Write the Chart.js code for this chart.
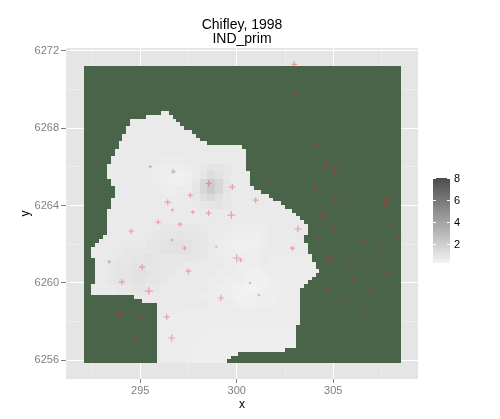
<!DOCTYPE html>
<html>
<head>
<meta charset="utf-8">
<title>Chifley, 1998</title>
<script src="https://cdn.jsdelivr.net/npm/chart.js@4"></script>
<style>
  html, body { margin: 0; padding: 0; background: #fff; }
  canvas { display: block; }
</style>
</head>
<body>
<canvas id="chart" width="500" height="419"></canvas>
<script>
const xMajor = [295, 300, 305];
const xMinor = [292.5, 297.5, 302.5, 307.5];
const yMajor = [6256, 6260, 6264, 6268, 6272];
const yMinor = [6258, 6262, 6266, 6270];
const legendTicks = [2, 4, 6, 8];

// site locations and the value measured there
const siteX = [299.17, 295.52, 296.71, 298.54, 299.77, 297.59, 296.42, 300.98, 302.98, 303.02, 304.16, 304.66, 305.09,
  301.56, 304.02, 305.09, 305.54, 307.75, 307.68, 296.66, 297.72, 298.54, 299.72, 295.93, 297.07, 294.53, 296.64,
  297.30, 298.94, 299.99, 300.20, 293.39, 295.09, 297.49, 294.05, 300.68, 295.44, 299.18, 301.15, 293.88, 295.02,
  296.37, 296.63, 294.78, 303.79, 304.45, 307.87, 305.04, 303.17, 308.40, 304.09, 306.54, 302.88, 307.49, 304.79,
  305.87, 306.19, 307.11, 307.80, 305.98, 304.69, 306.89, 305.35, 306.66, 307.35];
const siteY = [6269.36, 6266.02, 6265.76, 6265.14, 6264.97, 6264.54, 6264.18, 6264.28, 6271.31, 6269.76, 6267.18, 6266.14, 6265.83,
  6265.21, 6264.85, 6264.28, 6264.49, 6264.28, 6264.09, 6263.78, 6263.66, 6263.61, 6263.51, 6263.15, 6263.04, 6262.68, 6262.22,
  6261.80, 6261.87, 6261.29, 6261.18, 6261.10, 6260.82, 6260.61, 6260.05, 6260.00, 6259.58, 6259.22, 6259.37, 6258.39, 6258.13,
  6258.24, 6257.15, 6257.10, 6263.52, 6263.56, 6263.06, 6262.79, 6262.79, 6262.37, 6262.32, 6262.22, 6261.80, 6261.75, 6261.24,
  6261.15, 6260.98, 6260.63, 6260.56, 6260.15, 6259.74, 6259.63, 6259.06, 6258.65, 6258.39];
const indPrim = [2, 3, 5, 6, 6, 5, 6, 6, 6, 5, 4, 7, 8,
  4, 6, 4, 3, 6, 6, 3, 4, 6, 8, 5, 5, 5, 2.4,
  4, 2, 8, 4, 3.4, 6, 6, 6, 2.4, 8, 6, 2.4, 8, 4,
  6, 7, 5, 2, 5, 4, 7, 7, 5, 3, 4, 5, 4.4, 8,
  2.4, 3, 2.4, 4.4, 6, 8, 6, 3, 4.4, 2];

// interpolated surface inside the boundary: first raster row, then start/end column of each row
const firstRow = 12;
const rowLeft = [20, 16, 12, 12, 11, 11, 10, 10, 9, 9, 8, 8, 7, 7, 6, 6, 6, 6, 7, 7, 8, 8, 8, 7, 7, 7, 6, 6, 6, 6, 6, 6, 6,
  5, 4, 3, 2, 2, 2, 3, 3, 3, 3, 3, 3, 3, 2, 2, 2, 13, 15,
  19, 19, 19, 19, 19, 19, 19, 19, 19, 19, 19, 19, 19, 19, 19, 19];
const rowRight = [22, 23, 24, 25, 26, 28, 29, 30, 32, 41, 42, 42, 42, 42, 42, 42, 43, 43, 43, 43, 44, 46, 48, 49, 51, 52,
  54, 55, 56, 57, 58, 58, 58, 57, 57, 58, 58, 58, 59, 59, 60, 60, 61, 60, 59, 58, 57,
  56, 56, 56, 56, 56, 56, 56, 56, 56, 56, 55, 55, 55, 55, 55, 55, 52, 40, 38, 37];

// surface level per block of 2x2 raster cells, a = lowest, one letter per 0.1
const fieldRows = [
  'eeeeeeeeeeeeeeeeeeeeeeeeeeeeeee',
  'eeeeeeeeeeeeeeeeeeeeeeeeeeeeeee',
  'eeeeeeeeeeeeeeeeeeeeeeeeeeeeeee',
  'eeeeeeeeeeeeeeeeeeeeeeeeeeeeeee',
  'eeeeeeeeeeeeeeeeeeeeeeeeeeeeeee',
  'eeeeeeeeeeeeeeeeeeeeeeeeeeeeeee',
  'eeeeeeeeeedddeeeeeeeeeeeeeeeeee',
  'eeeeeeeeedcccdefhgfeeeeeeeeeeee',
  'eeeeeeeeedcbbcegkhfeeeeeeeeeeee',
  'eeeeeeeeedcbbcfmrmgeeeeeeeeeeee',
  'eeeeeeeeeedcddgmsmgeeeeeeeeeeee',
  'eeeeeeeeeeddeefjlifeeeeeeeeeeee',
  'eeeeeeeeeeeeeeefghfeeeeeeeeeeee',
  'eeeeeeeeeeeeeeeeeeeeeeeeeeeeeee',
  'eeeeeeeeeeeeeeeeeeeeeeeeeeeeeee',
  'eeeeeeeeeefffffeeeedddddeeeeeee',
  'eeeeeeeeefgghggfeedccccdeeeeeee',
  'eeeeeeeefghiihgfedcbbbcdeeeeeee',
  'eeeeeffffghhihgfedccbccdeeeeeee',
  'eeeeffgghgfffgffeedcdcdeddddddd',
  'eeefgghhggfffeeeeeddcccdddddddd',
  'eeefgghihgffeeeeedddcbbcddddddd',
  'eeefgghhggfeeeeeddcccbbbcdddddd',
  'eeeeffggffeeeeeedccbbaabccddddd',
  'eeeeefffeeeeeeeddccbabbccddddd',
  'eeeeeeeeeeeeeeeedddcbbcccdddddd',
  'eeeeeeeeeeeeedddddddddddddddddd',
  'eeeeeeeeeeddddddddddddddddddddd',
  'eeeeeeeeedddddddddddddddddddddd',
  'eeeeeeeeeeddddddcccccccccccccdd',
  'eeeeeeeedddddddcccccccccccccccc',
  'eeeeeeeeddddddcccccccccccccbbbb',
  'eeeeeeeeddddddcccccccccccccbbbb',
  'eeeeeeeeddddddcccccccccccccbbbb'
];
const firstFieldRow = 6;

const rasterLeft = 292.07, rasterTop = 6271.22, cellW = 0.2002, cellH = 0.1945;
const rasterCols = 82, rasterRows = 79;

function levelValue(ch) {
  return 0.4 + (ch.charCodeAt(0) - 97) * 0.1;
}

function greyFor(value) {
  const g = Math.round(251 - 21.8 * value);
  return 'rgb(' + g + ',' + g + ',' + g + ')';
}

const rasterPlugin = {
  id: 'raster',
  beforeDraw(chart) {
    const a = chart.chartArea, ctx = chart.ctx;
    ctx.fillStyle = '#e5e5e5';
    ctx.fillRect(a.left, a.top, a.right - a.left, a.bottom - a.top);
  },
  beforeDatasetsDraw(chart) {
    const ctx = chart.ctx, sx = chart.scales.x, sy = chart.scales.y;
    const px = c => Math.round(sx.getPixelForValue(rasterLeft + c * cellW));
    const py = r => Math.round(sy.getPixelForValue(rasterTop - r * cellH));

    // missing cells are the dark green
    ctx.fillStyle = '#4a644a';
    ctx.fillRect(px(0), py(0), px(rasterCols) - px(0), py(rasterRows) - py(0));

    rowLeft.forEach((left, i) => {
      const r = firstRow + i;
      const levels = fieldRows[(r >> 1) - firstFieldRow];
      for (let c = left; c < rowRight[i]; c++) {
        ctx.fillStyle = greyFor(levelValue(levels.charAt(c >> 1) || 'd'));
        ctx.fillRect(px(c), py(r), px(c + 1) - px(c), py(r + 1) - py(r));
      }
    });
  },
  afterDraw(chart) {
    // colour bar
    const ctx = chart.ctx;
    const barX = 433, barW = 17, barTop = 178, barBottom = 263;
    const yOf = v => 244.3 - (v - 2) * 11.1;
    for (let y = barTop; y < barBottom; y++) {
      ctx.fillStyle = greyFor(2 + (244.3 - y) / 11.1);
      ctx.fillRect(barX, y, barW, 1);
    }
    ctx.font = '11px "Liberation Sans", Arial, sans-serif';
    ctx.textAlign = 'left';
    ctx.textBaseline = 'middle';
    legendTicks.forEach(v => {
      const y = Math.round(yOf(v));
      ctx.fillStyle = '#fff';
      ctx.fillRect(barX, y, 3, 1);
      ctx.fillRect(barX + barW - 3, y, 3, 1);
      ctx.fillStyle = '#000';
      ctx.fillText(String(v), 454, y + 0.5);
    });
  }
};

function gridOptions(major, len) {
  return {
    color: c => major.includes(c.tick.value) ? '#ffffff' : '#f2f2f2',
    lineWidth: c => major.includes(c.tick.value) ? 1 : 0.6,
    tickColor: c => major.includes(c.tick.value) ? '#7f7f7f' : 'rgba(0,0,0,0)',
    tickLength: len,
    tickWidth: 1
  };
}

const tickFont = { family: '"Liberation Sans", Arial, sans-serif', size: 11 };

new Chart(document.getElementById('chart'), {
  type: 'scatter',
  data: {
    datasets: [{
      data: siteX.map((x, i) => ({ x: x, y: siteY[i] })),
      pointStyle: 'cross',
      pointRadius: indPrim.map(v => v / 2),
      pointBorderColor: 'rgba(245, 30, 40, 0.36)',
      pointBorderWidth: 1.2,
      pointBackgroundColor: 'rgba(0,0,0,0)'
    }]
  },
  options: {
    responsive: false,
    animation: false,
    events: [],
    layout: { padding: { left: 0, right: 82, top: 0, bottom: 0 } },
    plugins: {
      legend: { display: false },
      tooltip: { enabled: false },
      title: {
        display: true,
        fullSize: false,
        text: ['Chifley, 1998', 'IND_prim'],
        color: '#000',
        font: { family: '"Liberation Sans", Arial, sans-serif', size: 14, weight: 'normal', lineHeight: 1 },
        padding: { top: 18, bottom: 2 }
      }
    },
    scales: {
      x: {
        type: 'linear',
        min: 291.15,
        max: 309.39,
        border: { display: false },
        grid: gridOptions(xMajor, 4),
        afterBuildTicks: s => { s.ticks = xMinor.concat(xMajor).map(v => ({ value: v })); },
        afterFit: s => { s.height = 40; },
        ticks: {
          color: '#7f7f7f',
          font: tickFont,
          padding: 1,
          autoSkip: false,
          maxRotation: 0,
          callback: v => xMajor.includes(v) ? String(v) : ''
        },
        title: {
          display: true,
          text: 'x',
          color: '#000',
          font: { family: tickFont.family, size: 12 },
          padding: { top: 0, bottom: 7 }
        }
      },
      y: {
        type: 'linear',
        min: 6255.03,
        max: 6272.155,
        border: { display: false },
        grid: gridOptions(yMajor, 5),
        afterBuildTicks: s => { s.ticks = yMinor.concat(yMajor).map(v => ({ value: v })); },
        afterFit: s => { s.width = 66; },
        ticks: {
          color: '#7f7f7f',
          font: tickFont,
          padding: 2,
          autoSkip: false,
          callback: v => yMajor.includes(v) ? String(v) : ''
        },
        title: {
          display: true,
          text: 'y',
          color: '#000',
          font: { family: tickFont.family, size: 12 },
          padding: { top: 18, bottom: 0 }
        }
      }
    }
  },
  plugins: [rasterPlugin]
});
</script>
</body>
</html>
